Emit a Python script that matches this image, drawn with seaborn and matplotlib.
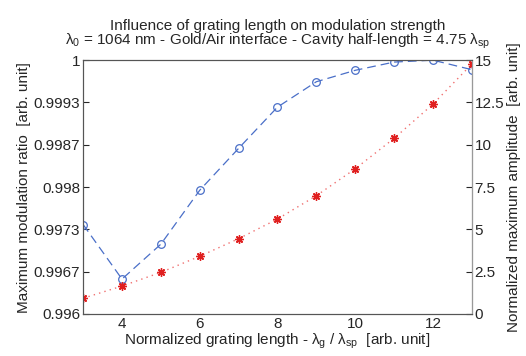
import numpy as np
import pandas as pd
import matplotlib
matplotlib.use("Agg")
import matplotlib.pyplot as plt
import seaborn as sns

# values
grating = [3, 4, 5, 6, 7, 8, 9, 10, 11, 12, 13]
mod_ratio = [0.99741, 0.99655, 0.99710, 0.99795, 0.99861, 0.99926,
             0.99966, 0.99984, 0.99997, 1.00000, 0.99985]
amplitude = [0.93, 1.65, 2.46, 3.41, 4.45, 5.61, 6.99, 8.58, 10.38, 12.40, 14.77]
left_ticks = ["0.996", "0.9967", "0.9973", "0.998", "0.9987", "0.9993", "1"]
right_ticks = ["0", "2.5", "5", "7.5", "10", "12.5", "15"]

df = pd.DataFrame({"g": grating, "ratio": mod_ratio, "amp": amplitude})

sns.set_style("white")
plt.rcParams["font.family"] = ["Liberation Sans", "DejaVu Sans"]
plt.rcParams["mathtext.fontset"] = "custom"
plt.rcParams["mathtext.rm"] = "Liberation Sans"
plt.rcParams["mathtext.it"] = "Liberation Sans"
plt.rcParams["font.size"] = 10.5

fig = plt.figure(figsize=(5.26, 3.56), dpi=100)
ax = fig.add_axes([0.158, 0.118, 0.739, 0.713])
ax2 = ax.twinx()

sns.lineplot(data=df, x="g", y="ratio", ax=ax, color="#4a6fc8", lw=0.9,
             linestyle=(0, (7, 4)), marker="o", markersize=5.5,
             markerfacecolor="none", markeredgecolor="#4a6fc8", markeredgewidth=0.9)
sns.lineplot(data=df, x="g", y="amp", ax=ax2, color="#f07070", lw=1.0,
             linestyle=(0, (1, 3)), marker=(8, 2, 0), markersize=6,
             markerfacecolor="#e02020", markeredgecolor="#e02020", markeredgewidth=1.0)

ax.set_xlim(3, 13)
ax.set_ylim(0.996, 1.0)
ax2.set_ylim(0, 15)
ax.set_xticks([4, 6, 8, 10, 12])
ax.set_yticks(np.linspace(0.996, 1.0, 7))
ax.set_yticklabels(left_ticks)
ax2.set_yticks(np.linspace(0, 15, 7))
ax2.set_yticklabels(right_ticks)

for a in (ax, ax2):
    a.tick_params(direction="in", length=4, width=0.8, labelsize=11, pad=2)
    for s in a.spines.values():
        s.set_color("#555555")
        s.set_linewidth(0.8)
ax2.spines["right"].set_color("#999999")

ax.set_xlabel(r"Normalized grating length - $\lambda_g$ / $\lambda_{sp}$  [arb. unit]",
              fontsize=11, labelpad=1)
ax.set_ylabel("Maximum modulation ratio  [arb. unit]", fontsize=11, labelpad=2)
ax2.set_ylabel("Normalized maximum amplitude  [arb. unit]", fontsize=11, labelpad=2)
ax.set_title("Influence of grating length on modulation strength\n"
             r"$\lambda_0$ = 1064 nm - Gold/Air interface - Cavity half-length = 4.75 $\lambda_{sp}$",
             fontsize=11, linespacing=0.95, pad=11)

fig.savefig("out.png", dpi=100)
